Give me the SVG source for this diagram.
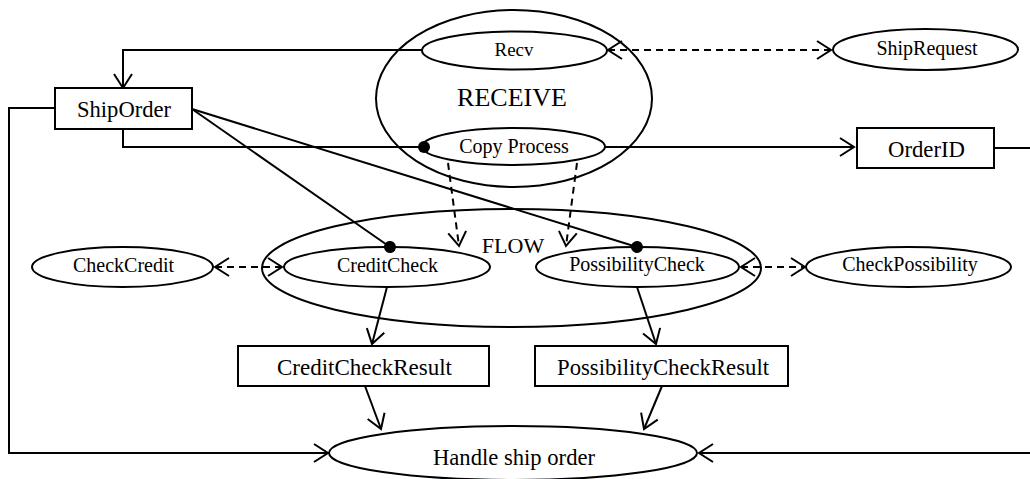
<svg xmlns="http://www.w3.org/2000/svg" width="1030" height="479" viewBox="0 0 1030 479">
  <style>
    .shape { fill: #fff; stroke: #000; stroke-width: 2; }
    .group { fill: none; stroke: #000; stroke-width: 2; }
    .line { fill: none; stroke: #000; stroke-width: 2; }
    .dash { fill: none; stroke: #000; stroke-width: 2; stroke-dasharray: 7 5; }
    .arrow { marker-end: url(#open); }
    .both { marker-start: url(#openStart); marker-end: url(#open); }
    .dot { marker-end: url(#dot); }
    text { font-family: "Liberation Serif", "Times New Roman", serif; fill: #000; text-anchor: middle; }
    .big { font-size: 24px; }
    .mid { font-size: 20px; }
  </style>
  <defs>
    <marker id="open" markerUnits="userSpaceOnUse" viewBox="-16 -11 18 22" refX="0" refY="0" markerWidth="18" markerHeight="22" orient="auto">
      <path d="M-14,-9 L0,0 L-14,9" fill="none" stroke="#000" stroke-width="2"/>
    </marker>
    <marker id="openStart" markerUnits="userSpaceOnUse" viewBox="-16 -11 18 22" refX="0" refY="0" markerWidth="18" markerHeight="22" orient="auto-start-reverse">
      <path d="M-14,-9 L0,0 L-14,9" fill="none" stroke="#000" stroke-width="2"/>
    </marker>
    <marker id="dot" markerUnits="userSpaceOnUse" viewBox="-7 -7 14 14" refX="0" refY="0" markerWidth="14" markerHeight="14" orient="auto">
      <circle cx="0" cy="0" r="6" fill="#000"/>
    </marker>
  </defs>

  <!-- composite activities -->
  <g id="receive">
    <ellipse class="group" cx="514" cy="98.5" rx="138" ry="88.5"/>
    <text x="512" y="106" style="font-size:26px">RECEIVE</text>
  </g>
  <g id="flow">
    <ellipse class="group" cx="511.5" cy="268" rx="249.5" ry="59"/>
    <text x="513" y="253" style="font-size:22px">FLOW</text>
  </g>

  <!-- connectors -->
  <g id="connectors">
    <path class="line arrow" d="M422,50 H123 V88"/>
    <path class="line arrow" d="M55,108 H9 V453 H328"/>
    <path class="line dot" d="M123,129 V147 H424"/>
    <path class="line dot" d="M192,109 L390,247"/>
    <path class="line dot" d="M192,109 L637,247"/>
    <path class="line arrow" d="M605,147 H854"/>
    <path class="line arrow" d="M994,148 H1033 V453 H699"/>
    <path class="dash both" d="M608,50 H831"/>
    <path class="dash arrow" d="M448,163 L459,246"/>
    <path class="dash arrow" d="M577,163 L566,246"/>
    <path class="dash both" d="M215,267 H282"/>
    <path class="dash both" d="M741,267 H805"/>
    <path class="line arrow" d="M387,287 L372,344"/>
    <path class="line arrow" d="M637,287 L656,344"/>
    <path class="line arrow" d="M365,386 L381,429"/>
    <path class="line arrow" d="M662,386 L644,429"/>
  </g>

  <!-- nodes -->
  <g id="recv">
    <ellipse class="shape" cx="514.5" cy="50.5" rx="92.5" ry="19" style="fill:none"/>
    <text class="mid" x="514" y="56" style="font-size:19px">Recv</text>
  </g>
  <g id="copy-process">
    <ellipse class="shape" cx="513.5" cy="146.5" rx="91.5" ry="18.5" style="fill:none"/>
    <text class="mid" x="514" y="153">Copy Process</text>
  </g>
  <g id="ship-request">
    <ellipse class="shape" cx="925.5" cy="49.5" rx="92.5" ry="20.5"/>
    <text class="mid" x="927" y="55">ShipRequest</text>
  </g>
  <g id="ship-order">
    <rect class="shape" x="55" y="88" width="137" height="41"/>
    <text class="big" x="124" y="117" textLength="94" lengthAdjust="spacingAndGlyphs">ShipOrder</text>
  </g>
  <g id="order-id">
    <rect class="shape" x="857" y="128" width="137" height="40"/>
    <text class="big" x="926.5" y="157" textLength="77" lengthAdjust="spacingAndGlyphs">OrderID</text>
  </g>
  <g id="check-credit">
    <ellipse class="shape" cx="122.5" cy="267" rx="90.5" ry="20"/>
    <text class="mid" x="123.5" y="272">CheckCredit</text>
  </g>
  <g id="credit-check">
    <ellipse class="shape" cx="387" cy="267" rx="103" ry="20" style="fill:none"/>
    <text class="mid" x="387.5" y="272">CreditCheck</text>
  </g>
  <g id="possibility-check">
    <ellipse class="shape" cx="637.5" cy="267" rx="101.5" ry="20" style="fill:none"/>
    <text class="mid" x="637" y="271">PossibilityCheck</text>
  </g>
  <g id="check-possibility">
    <ellipse class="shape" cx="908.5" cy="267" rx="102.5" ry="20"/>
    <text class="mid" x="910" y="271">CheckPossibility</text>
  </g>
  <g id="credit-check-result">
    <rect class="shape" x="238" y="346" width="251" height="40"/>
    <text class="big" x="364.5" y="375" textLength="175" lengthAdjust="spacingAndGlyphs">CreditCheckResult</text>
  </g>
  <g id="possibility-check-result">
    <rect class="shape" x="535" y="346" width="253" height="40"/>
    <text class="big" x="663" y="375" textLength="212" lengthAdjust="spacingAndGlyphs">PossibilityCheckResult</text>
  </g>
  <g id="handle-ship-order">
    <ellipse class="shape" cx="513" cy="453" rx="184" ry="27"/>
    <text class="big" x="514" y="465" textLength="162" lengthAdjust="spacingAndGlyphs">Handle ship order</text>
  </g>
</svg>
